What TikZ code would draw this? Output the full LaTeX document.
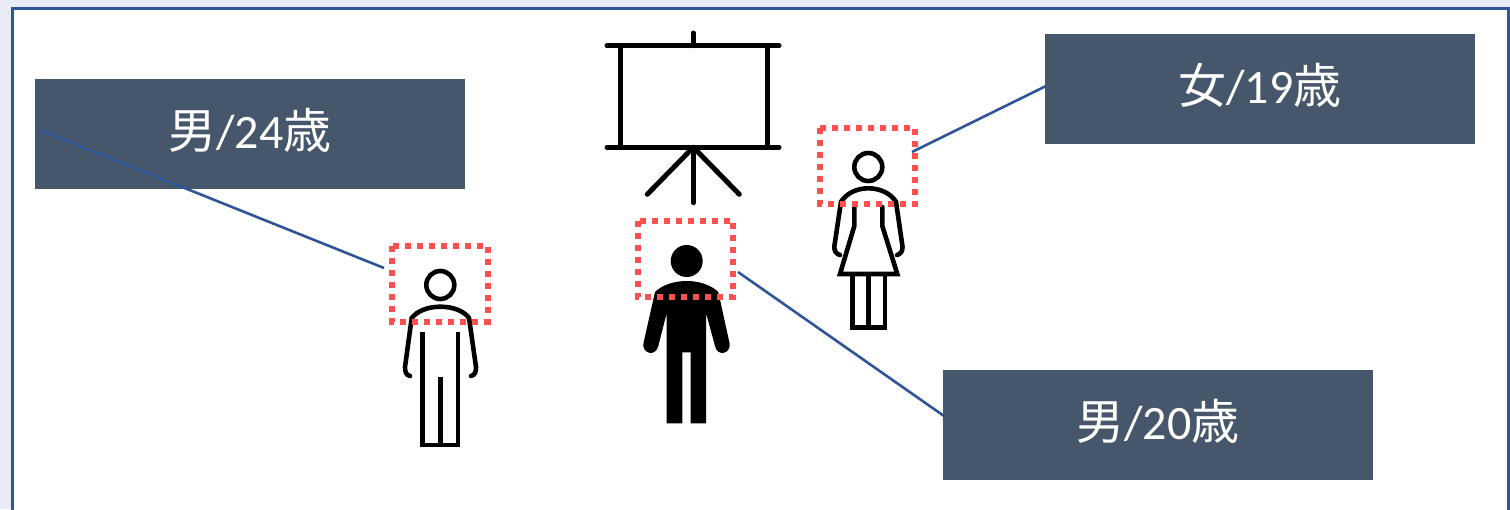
\documentclass[tikz,border=0pt]{standalone}
\usepackage{fontspec}
\setmainfont{Carlito}
\newfontfamily\cjk{Noto Sans CJK JP}
\definecolor{bgc}{HTML}{E8EBF5}
\definecolor{framec}{HTML}{2F5597}
\definecolor{boxc}{HTML}{46566B}
\definecolor{dotc}{HTML}{FF5050}
\newcommand{\lbl}[3]{\raisebox{10.5pt}{{\cjk #1}/#2{\cjk #3}}}
\tikzset{
  x=1pt,y=-1pt,
  labelbox/.style={fill=boxc,text=white,minimum width=430pt,minimum height=110pt,inner sep=0pt,font=\fontsize{48}{52}\selectfont},
  dotbox/.style={draw=dotc,line width=6.2pt,dash pattern=on 6pt off 6pt},
  conn/.style={draw=framec,line width=2.6pt},
  icon/.style={draw=black,line width=5pt,line cap=round,line join=miter},
  thinicon/.style={icon,line width=4.6pt},
}
\begin{document}
\begin{tikzpicture}
\useasboundingbox (0,0) rectangle (1510,509);
\fill[bgc] (0,0) rectangle (1510,509);
\fill[white,draw=framec,line width=3pt] (12.5,8.5) -- (1508.5,8.5) -- (1508.5,520) -- (12.5,520) -- cycle;
% label boxes
\node[labelbox] (b1) at (250,134) {\lbl{男}{24}{歳}};
\node[labelbox] (b2) at (1158,425) {\lbl{男}{20}{歳}};
\node[labelbox] (b3) at (1260,89) {\lbl{女}{19}{歳}};
% connector ends
\coordinate (c1a) at (40,130);
\coordinate (c1b) at (384,268);
\coordinate (c2a) at (738,272);
\coordinate (c2b) at (944,416);
\coordinate (c3a) at (912,152);
\coordinate (c3b) at (1046,86);
\draw[conn] (c1a) -- (c1b);
\draw[conn] (c2a) -- (c2b);
\draw[conn] (c3a) -- (c3b);
% projector screen
\draw[icon] (607,45.7) -- (779,45.7);
\draw[icon] (607,147.3) -- (779,147.3);
\draw[icon,line cap=butt] (620,45.7) -- (620,147.3);
\draw[icon,line cap=butt] (767,45.7) -- (767,147.3);
\draw[icon] (693.3,33) -- (693.3,45.7);
\draw[icon] (693.3,147.3) -- (693.3,202.7);
\draw[icon] (693.3,147.3) -- (647.3,194.3);
\draw[icon] (693.3,147.3) -- (739.3,194.3);
% person left
\draw[thinicon] (440.3,285) circle (14);
\draw[thinicon] (410,376) .. controls (406,375) and (405,372) .. (405,367) -- (411.7,318)
  .. controls (417,311) and (428,306.7) .. (440.3,306.7)
  .. controls (453,306.7) and (464,311) .. (469,318) -- (476,367)
  .. controls (476,372) and (475,375) .. (471,376);
\draw[thinicon,line cap=butt] (422.7,331.7) -- (422.7,445) -- (458,445) -- (458,331.7);
\draw[thinicon,line cap=butt] (440.4,376.7) -- (440.4,445);
% person centre
\fill[black] (686.7,261) circle (16);
\fill[black] (655,292) .. controls (662,285) and (674,281) .. (686.7,281)
  .. controls (699,281) and (711,285) .. (718.3,292)
  -- (729.5,343) .. controls (731.5,354) and (717,357) .. (715,346)
  -- (706,313) -- (706,423.3) -- (690.7,423.3) -- (690.7,352.3) -- (682.3,352.3) -- (682.3,423.3) -- (666.7,423.3)
  -- (666.7,313) -- (658.3,346)
  .. controls (656,357) and (641.5,354) .. (643.5,343) -- cycle;
% person right
\draw[thinicon] (868.3,167) circle (14);
\draw[thinicon] (840,255) .. controls (836,254) and (834.3,251) .. (834.3,246.7) -- (841,201.7)
  .. controls (846,194) and (856,188.3) .. (868.3,188.3)
  .. controls (881,188.3) and (891,194) .. (896,201.7) -- (902.5,246.7)
  .. controls (902.5,251) and (901,254) .. (897,255);
\draw[thinicon] (854.3,207) -- (854.3,226) -- (840,274) -- (897.3,274) -- (882.3,226) -- (882.3,207);
\draw[thinicon,line cap=butt] (852.3,274) -- (852.3,327.7) -- (885,327.7) -- (885,274);
\draw[thinicon,line cap=butt] (868.5,274) -- (868.5,327.7);
% dotted boxes
\draw[dotbox] (392.3,245.7) rectangle (487.7,321.7);
\draw[dotbox] (637.7,220.7) rectangle (733.3,297);
\draw[dotbox] (820,127.7) rectangle (915,203.7);
\end{tikzpicture}
\end{document}
